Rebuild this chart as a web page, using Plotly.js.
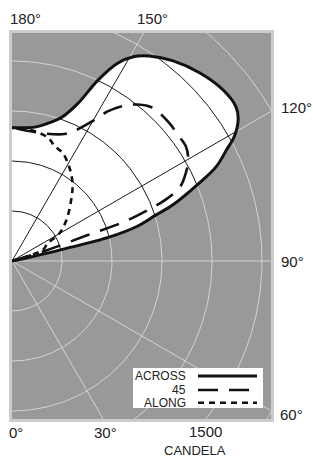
<!DOCTYPE html>
<html><head><meta charset="utf-8">
<script src="https://cdn.plot.ly/plotly-3.0.1.min.js"></script>
<style>html,body{margin:0;padding:0;background:#fff;} #chart{width:313px;height:464px;}</style>
</head><body><div id="chart"></div>
<script>
// ---- Data: angle in degrees (0 = straight down, 90 = horizontal, 180 = straight up), intensity in candela
const acrossAngles = [90, 101, 103, 103.8, 105.5, 107.7, 109.2, 112.5, 114.8, 117.4, 119.3, 122, 124.6, 129, 135, 141.3, 146.2, 149.1, 151.9, 154.6, 157.3, 161, 165, 170.3, 180];
const acrossCd     = [0, 60, 310, 600, 780, 905, 1020, 1210, 1350, 1450, 1530, 1600, 1632, 1630, 1595, 1540, 1480, 1430, 1345, 1200, 1025, 910, 858, 815, 800];
const diagAngles   = [90, 107, 108.9, 109.3, 110.6, 111.8, 113.9, 116.9, 119.9, 123.5, 126.7, 131.3, 137.4, 141.2, 144.8, 147.4, 149.7, 153.9, 157.5, 165.6, 180];
const diagCd       = [0, 200, 480, 715, 880, 995, 1105, 1170, 1220, 1250, 1250, 1255, 1248, 1205, 1135, 1065, 980, 875, 825, 790, 800];
const alongAngles  = [90, 106.8, 109.7, 116.3, 120.3, 127.1, 135.9, 142, 148.6, 154.75, 159.5, 163.6, 170, 180];
const alongCd      = [0, 90, 195, 240, 330, 410, 510, 590, 660, 715, 735, 770, 790, 800];

const seriesNames  = ['ACROSS', '45', 'ALONG'];
const gridRadii    = [300, 600, 900, 1200, 1500, 1800];
const gridAngles   = [30, 60, 90, 120, 150];
const angleLabels  = ['180°', '150°', '120°', '90°', '60°', '30°', '0°'];
const radialLabel  = '1500';
const unitLabel    = 'CANDELA';

// ---- helpers
const rad = d => d * Math.PI / 180;
function toXY(angles, cds) {
  const x = [], y = [];
  angles.forEach((a, i) => { x.push(cds[i] * Math.sin(rad(a))); y.push(-cds[i] * Math.cos(rad(a))); });
  return {x, y};
}
const across = toXY(acrossAngles, acrossCd);
const diag = toXY(diagAngles, diagCd);
const along = toXY(alongAngles, alongCd);
const poly = across.x.map((v, i) => [v, across.y[i]]);
function inside(px, py) {
  let c = false;
  for (let i = 0, j = poly.length - 1; i < poly.length; j = i++) {
    const [xi, yi] = poly[i], [xj, yj] = poly[j];
    if (((yi > py) !== (yj > py)) && (px < (xj - xi) * (py - yi) / (yj - yi) + xi)) c = !c;
  }
  return c;
}

// light grid (full)
const gx = [], gy = [];
gridRadii.forEach(R => {
  for (let a = 0; a <= 180; a += 1) { gx.push(R * Math.sin(rad(a))); gy.push(-R * Math.cos(rad(a))); }
  gx.push(null); gy.push(null);
});
gridAngles.forEach(a => { gx.push(0, 2600 * Math.sin(rad(a)), null); gy.push(0, -2600 * Math.cos(rad(a)), null); });

// dark grid (only inside the ACROSS envelope)
const bx = [], by = [];
gridRadii.forEach(R => {
  let run = false;
  for (let a = 90; a <= 179.95; a += 0.1) {
    const x = R * Math.sin(rad(a)), y = -R * Math.cos(rad(a));
    if (inside(x, y)) { bx.push(x); by.push(y); run = true; }
    else if (run) { bx.push(null); by.push(null); run = false; }
  }
  bx.push(null); by.push(null);
});
gridAngles.forEach(a => {
  let last = 0;
  for (let r = 2; r < 2600; r += 2) {
    if (inside(r * Math.sin(rad(a)), -r * Math.cos(rad(a)))) last = r; else if (last > 0) break;
  }
  if (last > 0) { bx.push(0, last * Math.sin(rad(a)), null); by.push(0, -last * Math.cos(rad(a)), null); }
});

const traces = [
  {x: gx, y: gy, mode: 'lines', line: {color: '#d4d4d4', width: 1}, hoverinfo: 'skip', showlegend: false},
  {x: across.x, y: across.y, mode: 'lines', fill: 'toself', fillcolor: '#ffffff', line: {width: 0, shape: 'spline'}, hoverinfo: 'skip', showlegend: false},
  {x: bx, y: by, mode: 'lines', line: {color: '#1a1a1a', width: 1}, hoverinfo: 'skip', showlegend: false},
  {x: along.x, y: along.y, name: seriesNames[2], mode: 'lines', line: {color: '#111', width: 2.6, dash: '6px,5px', shape: 'spline'}, showlegend: false},
  {x: diag.x, y: diag.y, name: seriesNames[1], mode: 'lines', line: {color: '#111', width: 2.6, dash: '20px,11px', shape: 'spline'}, showlegend: false},
  {x: across.x, y: across.y, name: seriesNames[0], mode: 'lines', line: {color: '#111', width: 3, shape: 'spline'}, showlegend: false}
];

// layout geometry (pixels)
const W = 313, H = 464, L = 12, R = 42, T = 33, B = 45;
const pw = W - L - R, ph = H - T - B;
const px = v => (v - L) / pw, py = v => (H - B - v) / ph;
const font = 'Liberation Sans, Arial, sans-serif';
const tc = '#222';

const annotations = [];
const topPos = [[25.8, 18], [152.5, 18]];
const rightPos = [[280, 107.5], [280, 261], [279.3, 414.5]];
const botPos = [[105, 433], [15.5, 433]];
annotations.push({text: angleLabels[0], x: px(topPos[0][0]), y: py(topPos[0][1]), xanchor: 'center', yanchor: 'middle'});
annotations.push({text: angleLabels[1], x: px(topPos[1][0]), y: py(topPos[1][1]), xanchor: 'center', yanchor: 'middle'});
annotations.push({text: angleLabels[2], x: px(rightPos[0][0]), y: py(rightPos[0][1]), xanchor: 'left', yanchor: 'middle'});
annotations.push({text: angleLabels[3], x: px(rightPos[1][0]), y: py(rightPos[1][1]), xanchor: 'left', yanchor: 'middle'});
annotations.push({text: angleLabels[4], x: px(rightPos[2][0]), y: py(rightPos[2][1]), xanchor: 'left', yanchor: 'middle'});
annotations.push({text: angleLabels[5], x: px(botPos[0][0]), y: py(botPos[0][1]), xanchor: 'center', yanchor: 'middle'});
annotations.push({text: angleLabels[6], x: px(botPos[1][0]), y: py(botPos[1][1]), xanchor: 'center', yanchor: 'middle'});
annotations.push({text: radialLabel, x: px(205), y: py(432), xanchor: 'center', yanchor: 'middle'});
annotations.push({text: unitLabel, x: px(195), y: py(450), xanchor: 'center', yanchor: 'middle', font: {size: 13, family: font, color: tc}});
annotations.forEach(a => { a.xref = 'paper'; a.yref = 'paper'; a.showarrow = false; a.borderpad = 0; if (!a.font) a.font = {size: 15, family: font, color: tc}; });

const legendRows = [376, 390, 402.7];
const legendDash = ['solid', '20px,11px', '6px,5px'];
const shapes = [
  {type: 'rect', xref: 'paper', yref: 'paper', x0: -1.5 / pw, x1: 1 + 1.5 / pw, y0: -1.5 / ph, y1: 1 + 1.5 / ph, line: {color: '#cccccc', width: 3}, layer: 'above'},
  {type: 'rect', xref: 'paper', yref: 'paper', x0: px(133), x1: px(263), y0: py(408), y1: py(368), fillcolor: '#ffffff', line: {width: 0}, layer: 'above'}
];
seriesNames.forEach((n, i) => {
  shapes.push({type: 'line', xref: 'paper', yref: 'paper', x0: px(198), x1: px(257), y0: py(legendRows[i]), y1: py(legendRows[i]), line: {color: '#111', width: i === 0 ? 3 : 2.6, dash: legendDash[i]}, layer: 'above'});
  annotations.push({text: n, xref: 'paper', yref: 'paper', x: px(187), y: py(legendRows[i]), xanchor: 'right', yanchor: 'middle', showarrow: false, borderpad: 0, font: {size: 12, family: font, color: tc}});
});

const layout = {
  width: W, height: H,
  margin: {l: L, r: R, t: T, b: B, pad: 0},
  paper_bgcolor: '#ffffff', plot_bgcolor: '#999999',
  xaxis: {range: [0, pw * 6], showgrid: false, zeroline: false, showticklabels: false, ticks: '', fixedrange: true},
  yaxis: {range: [-(H - B - (T + 228)) * 6, 228 * 6], showgrid: false, zeroline: false, showticklabels: false, ticks: '', fixedrange: true},
  showlegend: false,
  annotations: annotations,
  shapes: shapes,
  font: {family: font, color: tc}
};
Plotly.newPlot('chart', traces, layout, {displayModeBar: false, staticPlot: true});
</script>
</body></html>
